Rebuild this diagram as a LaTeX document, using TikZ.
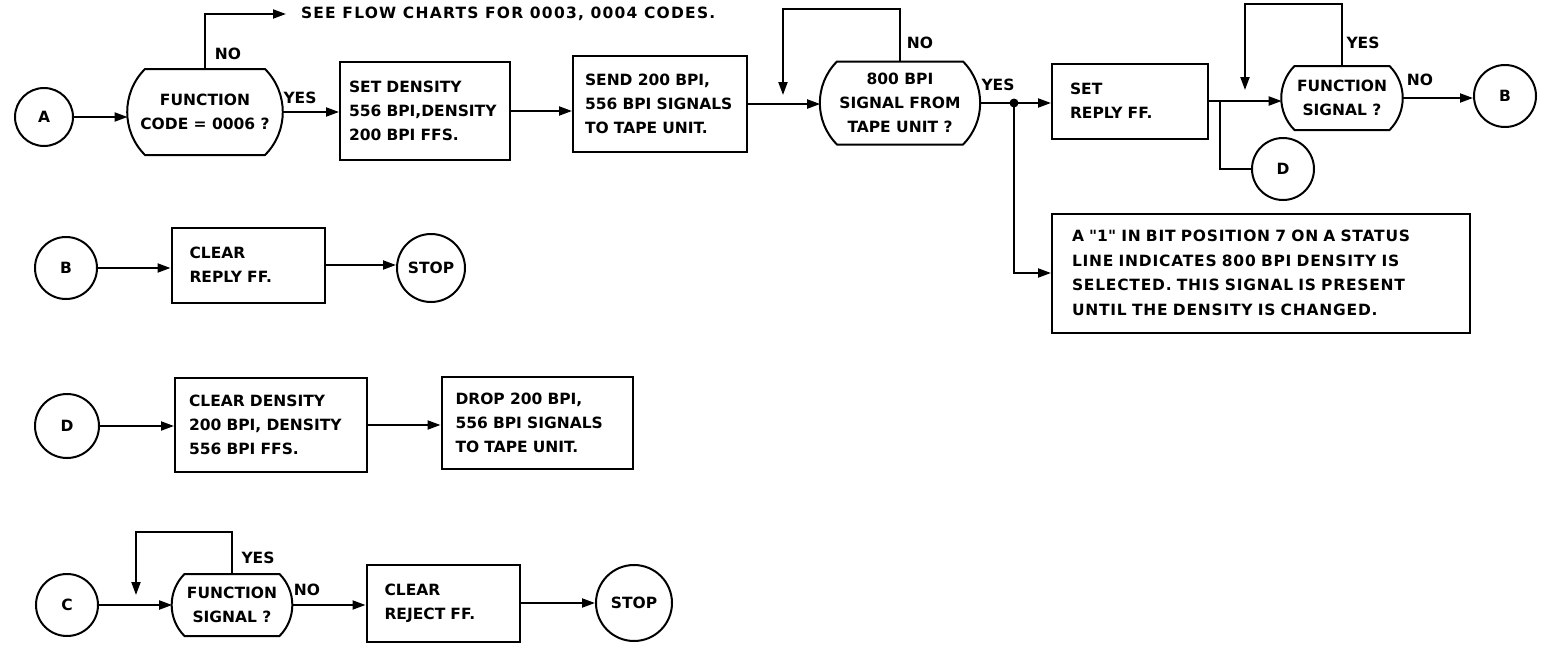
\documentclass[tikz,border=0pt]{standalone}
\usepackage{fontspec}
\setmainfont{DejaVu Sans}
\usetikzlibrary{positioning,arrows.meta}

\newcommand\testline[2]{\draw ([xshift=#2]#1.north west) -- ([xshift=-#2]#1.north east) to[out=-45, in=45] ([xshift=-#2]#1.south east) -- ([xshift=#2]#1.south west) to[out=135, in=-135] cycle;}

\begin{document}
\begin{tikzpicture}[
    x=1pt, y=-1pt,
    line width=2pt,
    every node/.style={font=\fontsize{15.5}{24}\selectfont\bfseries},
    term/.style={draw, circle, minimum size=#1, inner sep=0pt},
    box/.style={draw, align=left, text width=#1},
    test/.style={rectangle, align=center, inner xsep=-5pt, inner ysep=0pt, minimum width=#1},
    tag/.style={inner sep=0pt},
    arr/.style={-{Triangle[length=13pt, width=9pt]}}
]
\useasboundingbox (0,0) rectangle (1543,646);

\node[term=58] (ca) at (44,117) {A};
\node[test=120, minimum height=84, outer xsep=17.4pt] (t1) at (205,112) {FUNCTION\\CODE = 0006 ?};
\testline{t1}{17.4pt}
\node[box=152, inner xsep=9pt, minimum height=98] (s1) at (425,111) {SET DENSITY\\556 BPI,DENSITY\\200 BPI FFS.};
\node[box=150, inner xsep=12pt, minimum height=96] (s2) at (660,104) {SEND 200 BPI,\\556 BPI SIGNALS\\TO TAPE UNIT.};
\node[test=126, minimum height=81, outer xsep=16.8pt] (t2) at (900,103) {800 BPI\\SIGNAL FROM\\TAPE UNIT ?};
\testline{t2}{16.8pt}
\node[box=120, inner xsep=18pt, minimum height=75] (s3) at (1130,101) {SET\\REPLY FF.};
\node[test=95, minimum height=62, outer xsep=12.8pt] (t3) at (1342,98) {FUNCTION\\SIGNAL ?};
\testline{t3}{12.8pt}
\node[term=62] (cb) at (1505,96) {B};
\node[term=62] (cd) at (1283,169) {D};
\node[box=378, inner xsep=20pt, minimum height=119, font=\fontsize{15.5}{24.5}\selectfont\bfseries\addfontfeature{LetterSpace=5}] (note) at (1261,273) {A \textquotedbl 1\textquotedbl\ IN BIT POSITION 7 ON A STATUS\\LINE INDICATES 800 BPI DENSITY IS\\SELECTED. THIS SIGNAL IS PRESENT\\UNTIL THE DENSITY IS CHANGED.};
\node[anchor=west, inner xsep=14pt, font=\fontsize{15.5}{24}\selectfont\bfseries\addfontfeature{LetterSpace=8}] (see) at (286,14) {SEE FLOW CHARTS FOR 0003, 0004 CODES.};

\node[tag] at (228,54) {NO};
\node[tag] at (300,98) {YES};
\node[tag] at (920,43) {NO};
\node[tag] at (998,85) {YES};
\node[tag] at (1363,43) {YES};
\node[tag] at (1420,80) {NO};

\coordinate (j) at (1014,103);
\coordinate (k) at (1220,101);
\coordinate (r2top) at (783,9);
\coordinate (r2) at (783,95);
\coordinate (r3top) at (1245,4);
\coordinate (r3) at (1245,90);

\draw[arr] (ca) -- (ca -| t1.west);
\draw[arr] (t1) -- (t1 -| s1.west);
\draw[arr] (t1.north) |- (see.west);
\draw[arr] (s1) -- (s1 -| s2.west);
\draw[arr] (s2) -- (s2 -| t2.west);
\draw[arr] (t2.north) |- (r2top) -- (r2);
\draw (t2) -- (j);
\fill (j) circle (4.5pt);
\draw[arr] (j) -- (j -| s3.west);
\draw[arr] (j) |- (note.west);
\draw[arr] (s3) -- (s3 -| t3.west);
\draw (k) |- (cd);
\draw[arr] (t3.north) |- (r3top) -- (r3);
\draw[arr] (t3) -- (t3 -| cb.west);

\node[term=62] (cb2) at (66,268) {B};
\node[box=117, inner xsep=18pt, minimum height=75] (c1) at (248,265) {CLEAR\\REPLY FF.};
\node[term=68] (stop1) at (431,268) {STOP};
\draw[arr] (cb2) -- (cb2 -| c1.west);
\draw[arr] (c1) -- (c1 -| stop1.west);

\node[term=64] (cd2) at (67,426) {D};
\node[box=164, inner xsep=14pt, minimum height=94] (c2) at (271,425) {CLEAR DENSITY\\200 BPI, DENSITY\\556 BPI FFS.};
\node[box=163, inner xsep=14pt, minimum height=92] (c3) at (537,423) {DROP 200 BPI,\\556 BPI SIGNALS\\TO TAPE UNIT.};
\draw[arr] (cd2) -- (cd2 -| c2.west);
\draw[arr] (c2) -- (c2 -| c3.west);

\node[term=62] (cc) at (67,605) {C};
\node[test=95, minimum height=60, outer xsep=12.4pt] (t4) at (232,605) {FUNCTION\\SIGNAL ?};
\testline{t4}{12.4pt}
\node[box=117, inner xsep=18pt, minimum height=77] (c4) at (443,603) {CLEAR\\REJECT FF.};
\node[term=76] (stop2) at (634,603) {STOP};
\node[tag] at (258,558) {YES};
\node[tag] at (307,590) {NO};
\coordinate (r4top) at (136,532);
\coordinate (r4) at (136,595);
\draw[arr] (cc) -- (cc -| t4.west);
\draw[arr] (t4.north) |- (r4top) -- (r4);
\draw[arr] (t4) -- (t4 -| c4.west);
\draw[arr] (c4) -- (c4 -| stop2.west);
\end{tikzpicture}
\end{document}
